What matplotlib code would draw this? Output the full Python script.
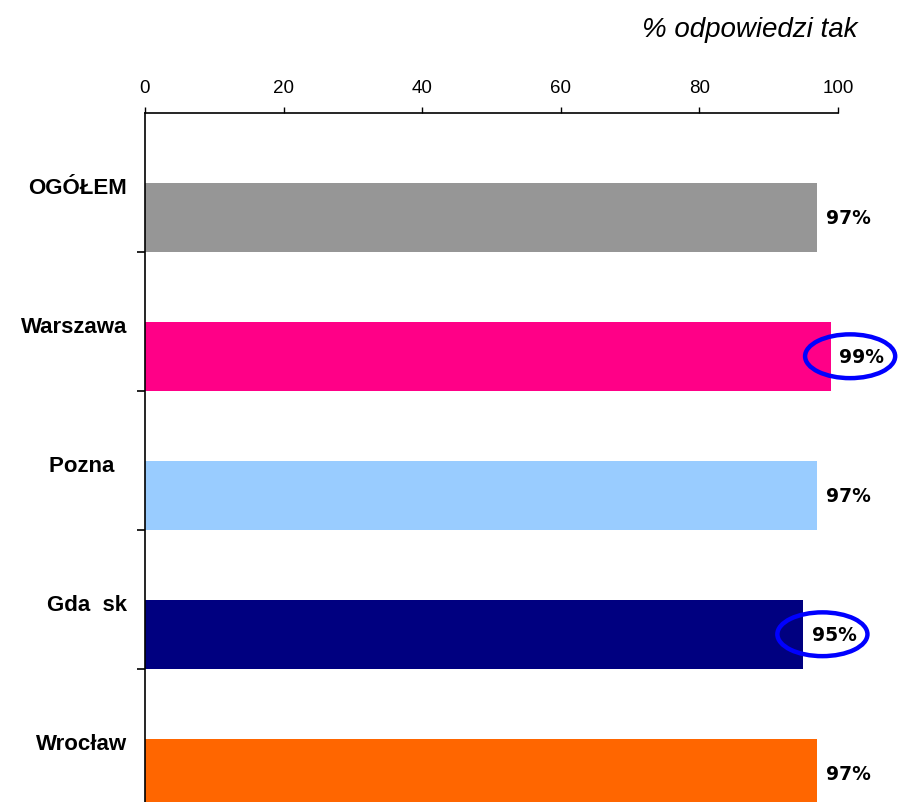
import matplotlib
matplotlib.use("Agg")
import matplotlib.pyplot as plt
from matplotlib.patches import Ellipse

categories = ["OGÓŁEM", "Warszawa", "Pozna  ", "Gda  sk", "Wrocław"]
values = [97, 99, 97, 95, 97]
colors = ["#969696", "#FF0087", "#99CCFF", "#000080", "#FF6600"]
highlighted = ["Warszawa", "Gda  sk"]
xticks = [0, 20, 40, 60, 80, 100]
title = "% odpowiedzi tak"

fig = plt.figure(figsize=(8.99, 8.03), dpi=100)
ax = fig.add_axes([145 / 899, 1 - 809 / 803, 693 / 899, 695 / 803])

n = len(categories)
pos = list(range(n))
bar_pos = [p + 0.25 for p in pos]
ax.barh(bar_pos, values, height=0.5, color=colors, zorder=2)

ax.set_xlim(0, 100)
ax.set_ylim(n - 0.5, -0.5)

# x axis on top
ax.xaxis.set_ticks_position("top")
ax.set_xticks(xticks)
ax.set_xticklabels([str(t) for t in xticks], family="Liberation Sans", fontsize=13.5)
ax.tick_params(axis="x", direction="out", length=4.5, width=1, pad=7.5, colors="black")

# y axis labels at slot centres, ticks at slot boundaries
ax.set_yticks([p + 0.02 for p in pos])
ax.set_yticklabels(categories, family="Liberation Sans", fontsize=16, fontweight="bold")
ax.tick_params(axis="y", which="major", length=0, pad=13)
ax.set_yticks([p + 0.5 for p in pos[:-1]], minor=True)
ax.tick_params(axis="y", which="minor", direction="out", length=6, width=1.2)

for side in ["right", "bottom"]:
    ax.spines[side].set_visible(False)
for side in ["left", "top"]:
    ax.spines[side].set_linewidth(1.2)
    ax.spines[side].set_color("black")

for i, (cat, v) in enumerate(zip(categories, values)):
    ax.annotate(f"{v}%", xy=(v, bar_pos[i]), xytext=(6, 0), textcoords="offset points",
                ha="left", va="center", family="DejaVu Sans", fontweight="bold",
                fontsize=13.5, color="black", annotation_clip=False)
    if cat in highlighted:
        e = Ellipse((v + 2.75, bar_pos[i]), width=13.0, height=0.315, fill=False,
                    edgecolor="#0000FF", linewidth=3.2, clip_on=False, zorder=5)
        ax.add_patch(e)

fig.text(858 / 899, 1 - 30 / 803, title, ha="right", va="center",
         family="Liberation Sans", style="italic", fontsize=20, color="black")

fig.savefig("out.png", dpi=100, facecolor="white")
